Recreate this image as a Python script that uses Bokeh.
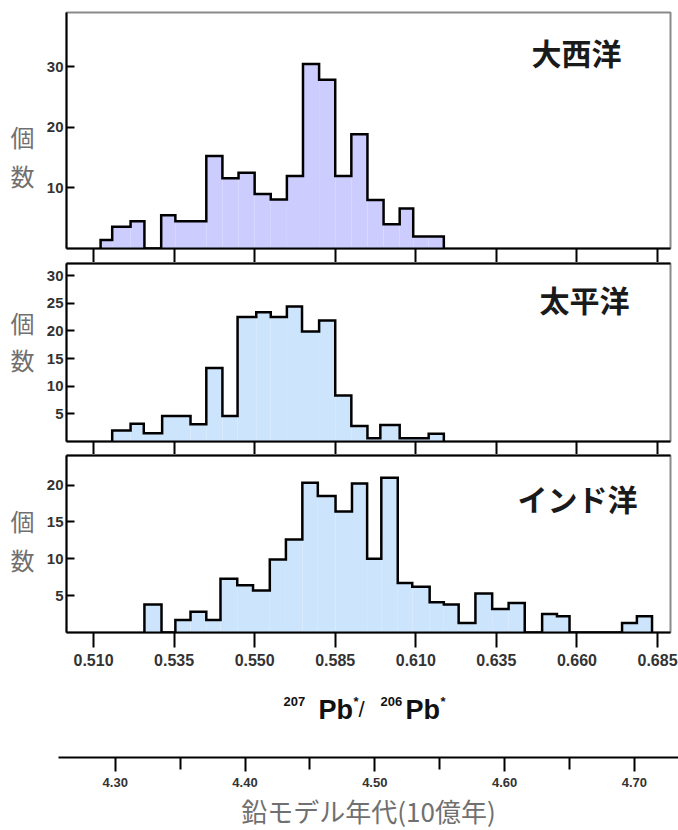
from bokeh.plotting import figure
from bokeh.layouts import column, row
from bokeh.models import Range1d, FixedTicker, Label, LinearAxis
from bokeh.embed import file_html
from bokeh.resources import INLINE

# 207Pb*/206Pb* histogram: bin edges and counts for each ocean
atl_edges = [0.5122, 0.5158, 0.5215, 0.5258, 0.5310, 0.5354, 0.5450, 0.550, 0.555,
             0.560, 0.565, 0.570, 0.575, 0.580, 0.585, 0.590, 0.595, 0.600, 0.605,
             0.6092, 0.6139, 0.6187]
atl_counts = [1.4, 3.6, 4.5, 0, 5.5, 4.5, 15.3, 11.6, 12.5, 9.0, 8.1, 12.0, 30.5,
              27.9, 12.0, 18.9, 8.0, 4.0, 6.6, 2.0, 2.0]

pac_edges = [0.5158, 0.5215, 0.5256, 0.5313, 0.5401, 0.545, 0.550, 0.5547, 0.5605,
             0.565, 0.570, 0.5747, 0.580, 0.585, 0.590, 0.595, 0.599, 0.605, 0.614,
             0.6187]
pac_counts = [2.0, 3.2, 1.5, 4.6, 3.1, 13.3, 4.6, 22.5, 23.4, 22.5, 24.4, 19.9, 21.9,
              8.3, 2.8, 0.6, 3.0, 0.6, 1.4]

ind_edges = [0.5258, 0.5311, 0.5354, 0.5401, 0.5450, 0.5494, 0.5546, 0.5595, 0.5647,
             0.5697, 0.5748, 0.5796, 0.5851, 0.5902, 0.5949, 0.5993, 0.6044, 0.6089,
             0.6143, 0.6187, 0.6233, 0.6285, 0.6337, 0.6388, 0.6438, 0.6492, 0.6538,
             0.6577, 0.6740, 0.6786, 0.6833]
ind_counts = [3.8, 0, 1.7, 2.8, 1.7, 7.3, 6.4, 5.7, 9.9, 12.6, 20.3, 18.5, 16.4, 20.2,
              10.0, 21.0, 6.7, 6.2, 4.1, 3.8, 1.3, 5.3, 3.2, 4.0, 0, 2.5, 2.2, 0, 1.3,
              2.2]

ocean_names = ["大西洋", "太平洋", "インド洋"]

ratio_ticks = [0.510, 0.535, 0.560, 0.585, 0.610, 0.635, 0.660, 0.685]
ratio_tick_labels = ["0.510", "0.535", "0.550", "0.585", "0.610", "0.635", "0.660", "0.685"]

atl_yticks = [10, 20, 30]
pac_yticks = [5, 10, 15, 20, 25, 30]
ind_yticks = [5, 10, 15, 20]

age_ticks = [4.30, 4.40, 4.50, 4.60, 4.70]
age_minor_ticks = [4.35, 4.45, 4.55, 4.65]
age_tick_labels = ["4.30", "4.40", "4.50", "4.60", "4.70"]

count_label = ["個", "数"]
ratio_title = ["207", "Pb", "*", "/", "206", "Pb", "*"]
age_title = "鉛モデル年代(10億年)"

X_RANGE = (0.50162, 0.68903)
TICK_FONT = "Liberation Sans"
CJK_FONT = "Noto Sans CJK JP"
SIDE_W = 40


def label(p, x, y, text, size, font=TICK_FONT, bold=True, color="#111111",
          align="left", baseline="alphabetic"):
    p.add_layout(Label(x=x, y=y, x_units="screen", y_units="screen", text=text,
                       text_font=font, text_font_size=f"{size}px",
                       text_font_style="bold" if bold else "normal",
                       text_color=color, text_align=align, text_baseline=baseline))


def side_label(height, ys):
    # narrow strip left of a panel holding the vertical "個 数" caption
    s = figure(frame_width=SIDE_W, frame_height=height,
               min_border_left=0, min_border_right=0,
               min_border_top=0, min_border_bottom=0,
               x_range=Range1d(0, SIDE_W), y_range=Range1d(0, height),
               x_axis_location=None, y_axis_location=None,
               output_backend="svg", toolbar_location=None)
    s.outline_line_color = None
    s.grid.visible = False
    for ch, yy in zip(count_label, ys):
        label(s, 22, yy, ch, 24, font=CJK_FONT, bold=False, color="#707070",
              align="center", baseline="middle")
    return s


def panel(edges, counts, yticks, ymax, fill, name, frame_h, top, bottom,
          name_xy, last):
    p = figure(frame_width=604, frame_height=frame_h,
               min_border_left=66 - SIDE_W, min_border_right=8,
               min_border_top=top, min_border_bottom=bottom,
               x_range=Range1d(*X_RANGE), y_range=Range1d(0, ymax),
               output_backend="svg", toolbar_location=None)
    p.xgrid.visible = False
    p.ygrid.visible = False
    p.outline_line_color = "#8a8a8a"
    p.outline_line_width = 2
    p.background_fill_color = "white"
    p.border_fill_color = "white"

    lefts, rights, tops = [], [], []
    for i, c in enumerate(counts):
        if c > 0:
            lefts.append(edges[i])
            rights.append(edges[i + 1])
            tops.append(c)
    p.quad(left=lefts, right=rights, bottom=0, top=tops,
           fill_color=fill, line_color=None)

    xs, ys = [edges[0]], [0]
    for i, c in enumerate(counts):
        xs += [edges[i], edges[i + 1]]
        ys += [c, c]
    xs.append(edges[-1])
    ys.append(0)
    p.line(xs, ys, line_color="black", line_width=2.5, line_join="miter")

    ya = p.yaxis[0]
    ya.ticker = FixedTicker(ticks=yticks, minor_ticks=[])
    ya.major_tick_in = 8
    ya.major_tick_out = 0
    ya.major_tick_line_width = 2
    ya.minor_tick_in = 0
    ya.minor_tick_out = 0
    ya.axis_line_width = 2
    ya.major_label_standoff = 3
    ya.major_label_text_font = TICK_FONT
    ya.major_label_text_font_style = "bold"
    ya.major_label_text_font_size = "15px"
    ya.major_label_text_color = "#333333"

    xa = p.xaxis[0]
    xa.ticker = FixedTicker(ticks=ratio_ticks, minor_ticks=[])
    xa.major_tick_in = 0
    xa.minor_tick_in = 0
    xa.minor_tick_out = 0
    xa.major_tick_line_width = 2
    xa.axis_line_width = 2
    if last:
        xa.major_tick_out = 15
        xa.major_label_standoff = 6
        xa.major_label_overrides = dict(zip(ratio_ticks, ratio_tick_labels))
        xa.major_label_text_font = TICK_FONT
        xa.major_label_text_font_style = "bold"
        xa.major_label_text_font_size = "16px"
        xa.major_label_text_color = "#333333"
    else:
        # tick marks only; they bridge the gap to the next panel
        xa.major_tick_out = bottom
        xa.major_label_standoff = 0
        xa.major_label_text_font_size = "0px"
        xa.major_label_text_color = None

    if top <= 1:
        # dark top edge shared with the tick row above
        ta = LinearAxis(ticker=FixedTicker(ticks=[], minor_ticks=[]),
                        axis_line_width=2, axis_line_color="black",
                        major_tick_out=0, major_tick_in=0,
                        minor_tick_out=0, minor_tick_in=0,
                        major_label_standoff=0,
                        major_label_text_font_size="0px",
                        major_label_text_color=None)
        p.add_layout(ta, "above")

    label(p, name_xy[0], name_xy[1], name, 30, font=CJK_FONT, bold=True,
          color="#1a1a1a", align="center", baseline="middle")
    return p


pa = panel(atl_edges, atl_counts, atl_yticks, 39.0, "#ccccff", ocean_names[0],
           236, 12, 14, (510, 197), False)
pb = panel(pac_edges, pac_counts, pac_yticks, 32.2, "#cce4fc", ocean_names[1],
           178, 1, 13, (518, 143), False)
pc = panel(ind_edges, ind_counts, ind_yticks, 24.0, "#cce4fc", ocean_names[2],
           177, 1, 38, (511, 135), True)

sa = side_label(262, (138, 99))
sb = side_label(192, (133, 96))
sc = side_label(216, (151, 112))

# lead model age scale below the ratio axis
pd = figure(frame_width=620, frame_height=87,
            min_border_left=58, min_border_right=0,
            min_border_top=0, min_border_bottom=73,
            x_range=Range1d(4.2563, 4.7340), y_range=Range1d(0, 1),
            y_axis_location=None,
            output_backend="svg", toolbar_location=None)
pd.grid.visible = False
pd.outline_line_color = None
ax = pd.xaxis[0]
ax.ticker = FixedTicker(ticks=age_ticks, minor_ticks=age_minor_ticks)
ax.major_label_overrides = dict(zip(age_ticks, age_tick_labels))
ax.major_tick_in = 0
ax.major_tick_out = 14
ax.minor_tick_in = 0
ax.minor_tick_out = 12
ax.major_tick_line_width = 2
ax.minor_tick_line_width = 2
ax.axis_line_width = 2
ax.major_label_standoff = 6
ax.major_label_text_font = TICK_FONT
ax.major_label_text_font_style = "bold"
ax.major_label_text_font_size = "13px"
ax.major_label_text_color = "#333333"
ax.axis_label = age_title
ax.axis_label_text_font = CJK_FONT
ax.axis_label_text_font_style = "normal"
ax.axis_label_text_font_size = "26px"
ax.axis_label_text_color = "#707070"
ax.axis_label_standoff = 2

# 207Pb*/206Pb* title drawn piecewise for the superscripts
fl, fb = 58, 757
label(pd, 283 - fl, fb - 701, ratio_title[0], 13)
label(pd, 318 - fl, fb - 709, ratio_title[1], 27)
label(pd, 353 - fl, fb - 701, ratio_title[2], 13)
label(pd, 358 - fl, fb - 709, ratio_title[3], 22, bold=False)
label(pd, 380 - fl, fb - 701, ratio_title[4], 13)
label(pd, 405 - fl, fb - 709, ratio_title[5], 27)
label(pd, 440 - fl, fb - 701, ratio_title[6], 13)

layout = column(row(sa, pa, spacing=0), row(sb, pb, spacing=0),
                row(sc, pc, spacing=0), pd, spacing=0)
open("out.html", "w").write(file_html(layout, INLINE))
